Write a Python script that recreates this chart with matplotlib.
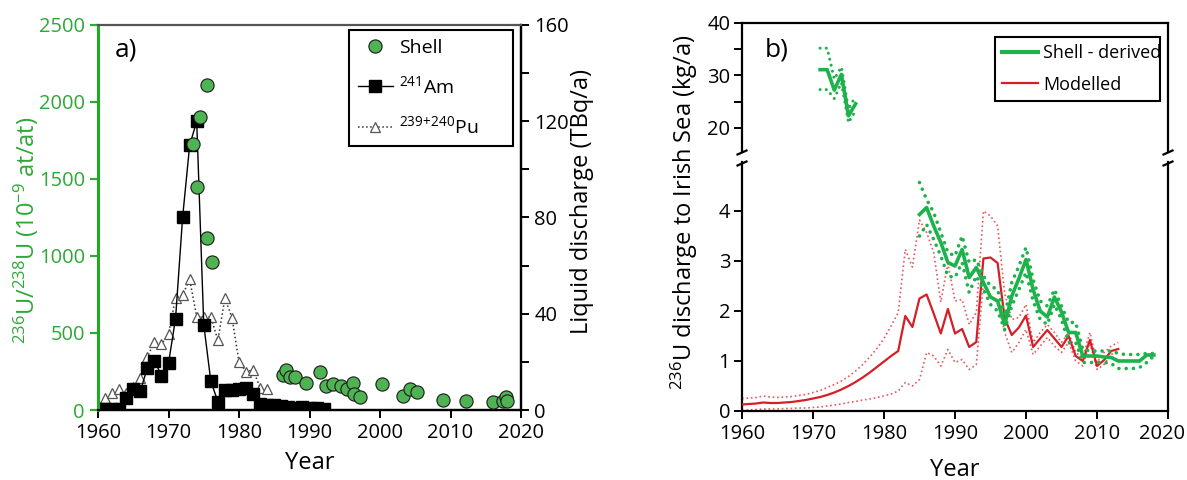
import matplotlib
matplotlib.use('Agg')
import matplotlib.pyplot as plt
import matplotlib.transforms as mtransforms
from matplotlib.lines import Line2D
from matplotlib.ticker import MultipleLocator, FixedLocator

FONT = 'Open Sans'
plt.rcParams['font.family'] = [FONT, 'DejaVu Sans']
plt.rcParams['mathtext.fontset'] = 'custom'
plt.rcParams['mathtext.rm'] = FONT
plt.rcParams['mathtext.it'] = FONT + ':italic'
plt.rcParams['mathtext.bf'] = FONT + ':bold'

# ---------------- data: panel a ----------------
am_years = list(range(1960, 1993))
am_values = [0.5, 0.5, 0.5, 0.5, 4.8, 8.8, 7.8, 17.5, 20.5, 14.3, 19.4, 38.0, 80.0, 110.0,
             120.0, 35.5, 12.0, 3.5, 8.3, 8.5, 8.8, 9.3, 6.5, 2.5, 2.2, 2.0, 1.6, 1.2,
             1.0, 1.1, 0.9, 0.8, 0.6]

pu_years = list(range(1960, 1985))
pu_values = [1.5, 4.8, 6.9, 8.6, 7.0, 9.5, 13.2, 22.0, 28.4, 27.4, 31.4, 46.7, 47.8, 54.3,
             38.8, 38.5, 38.8, 29.0, 46.4, 38.4, 20.0, 16.0, 16.6, 9.3, 8.6]

shell_years = [1973.5, 1974.0, 1974.5, 1975.4, 1975.5, 1976.1, 1986.2, 1986.7, 1987.2, 1988.0,
               1989.5, 1991.5, 1992.3, 1993.4, 1994.4, 1995.3, 1996.2, 1996.3, 1997.2, 2000.3,
               2003.2, 2004.2, 2005.2, 2009.0, 2012.2, 2016.0, 2017.5, 2017.9, 2018.0]
shell_ratio = [1730, 1450, 1905, 1120, 2110, 960, 230, 260, 212, 217,
               173, 245, 158, 169, 158, 137, 173, 104, 82, 169,
               93, 137, 115, 65, 61, 54, 61, 82, 60]

# ---------------- data: panel b ----------------
model_years = list(range(1960, 2014))
model_mid = [0.13, 0.14, 0.15, 0.17, 0.16, 0.16, 0.17, 0.18, 0.20, 0.22,
             0.25, 0.28, 0.32, 0.37, 0.43, 0.50, 0.58, 0.67, 0.77, 0.88,
             0.99, 1.10, 1.20, 1.90, 1.68, 2.25, 2.33, 1.95, 1.55, 2.04,
             1.55, 1.64, 1.28, 1.38, 3.05, 3.07, 2.96, 1.85, 1.52, 1.67,
             1.91, 1.28, 1.45, 1.62, 1.45, 1.28, 1.50, 1.10, 1.00, 1.42,
             0.90, 1.02, 1.20, 1.24]
model_hi = [0.25, 0.26, 0.27, 0.30, 0.28, 0.27, 0.28, 0.29, 0.31, 0.33,
            0.37, 0.41, 0.47, 0.53, 0.60, 0.69, 0.80, 0.93, 1.08, 1.25,
            1.45, 1.70, 1.97, 3.23, 2.88, 3.82, 3.57, 3.17, 2.18, 2.95,
            2.20, 2.23, 1.73, 1.97, 4.00, 3.90, 3.70, 2.35, 1.83, 1.87,
            2.13, 1.37, 1.57, 1.73, 1.57, 1.37, 1.57, 1.17, 1.07, 1.57,
            0.97, 1.17, 1.30, 1.37]
model_lo = [0.02, 0.02, 0.03, 0.04, 0.04, 0.04, 0.05, 0.05, 0.06, 0.06,
            0.07, 0.08, 0.10, 0.12, 0.14, 0.17, 0.19, 0.22, 0.24, 0.27,
            0.30, 0.34, 0.40, 0.57, 0.50, 0.63, 1.17, 1.10, 0.90, 1.23,
            0.97, 1.03, 0.83, 0.93, 2.57, 2.27, 2.20, 1.57, 1.17, 1.37,
            1.63, 1.13, 1.30, 1.47, 1.30, 1.17, 1.37, 1.00, 0.90, 1.37,
            0.83, 0.93, 1.13, 1.20]

shell_b_years = list(range(1985, 2019))
shell_b_mid = [3.93, 4.07, 3.70, 3.37, 2.97, 2.90, 3.23, 2.67, 2.87, 2.57,
               2.28, 2.20, 1.73, 2.30, 2.65, 3.03, 2.43, 2.00, 1.88, 2.28,
               1.98, 1.57, 1.57, 1.10, 1.10, 1.10, 1.08, 1.07, 1.00, 1.00,
               1.00, 1.00, 1.12, 1.12]
shell_b_hi = [4.57, 4.23, 3.97, 3.57, 3.17, 3.10, 3.50, 2.97, 3.03, 2.70,
              2.50, 2.43, 1.90, 2.57, 2.90, 3.27, 2.63, 2.20, 2.10, 2.43,
              2.10, 1.77, 1.77, 1.23, 1.20, 1.20, 1.20, 1.20, 1.15, 1.13,
              1.13, 1.13, 1.15, 1.15]
shell_b_lo = [3.50, 3.73, 3.43, 3.10, 2.70, 2.67, 2.97, 2.37, 2.70, 2.43,
              2.13, 2.00, 1.63, 2.10, 2.43, 2.77, 2.20, 1.83, 1.73, 2.13,
              1.83, 1.37, 1.37, 0.97, 0.97, 0.97, 0.97, 0.95, 0.85, 0.85,
              0.85, 0.87, 0.97, 1.10]

early_years = [1971, 1972, 1973, 1974, 1975, 1976]
early_mid = [31.1, 31.1, 27.2, 30.2, 22.3, 24.6]
early_hi = [35.2, 35.2, 29.3, 31.6, 23.6, 26.0]
early_lo = [27.3, 27.3, 25.6, 28.6, 21.0, 23.3]

year_ticks = [1960, 1970, 1980, 1990, 2000, 2010, 2020]

# ---------------- styling ----------------
GREEN_TXT = '#2ea836'
SHELL_FILL = '#4fb253'
LINE_GREEN = '#1db24b'
RED = '#d51f26'
RED_LIGHT = '#e55a5e'
TICK_FS = 14.5
LAB_FS = 17

W, H = 1187, 480
fig = plt.figure(figsize=(W / 100, H / 100), dpi=100)


def rect(x0, y0, x1, y1):
    return [x0 / W, 1 - y1 / H, (x1 - x0) / W, (y1 - y0) / H]


# ================= Panel a =================
axD = fig.add_axes(rect(98, 25, 521, 410))     # discharge (right axis)
axS = axD.twinx()                               # shell ratio (left axis)

axD.yaxis.tick_right()
axS.yaxis.tick_left()

axD.set_xlim(1960, 2020)
axD.set_ylim(0, 160)
axS.set_ylim(0, 2500)

axD.plot(pu_years, pu_values, ls=':', color='#333333', lw=1.1, marker='^', ms=7.5,
         mfc='white', mec='#555555', mew=0.9, zorder=2)
axD.plot(am_years, am_values, ls='-', color='black', lw=1.0, marker='s', ms=8,
         mfc='black', mec='black', zorder=3)
axS.plot(shell_years, shell_ratio, ls='none', marker='o', ms=9.5, mfc=SHELL_FILL,
         mec='#1a1a1a', mew=0.8, zorder=4)

axD.xaxis.set_major_locator(FixedLocator(year_ticks))
axD.yaxis.set_major_locator(MultipleLocator(40))
axD.yaxis.set_minor_locator(MultipleLocator(20))
axS.yaxis.set_major_locator(MultipleLocator(500))

for ax in (axD, axS):
    ax.tick_params(axis='both', which='both', direction='out', length=6, width=1.4,
                   labelsize=TICK_FS)
axS.tick_params(axis='y', colors=GREEN_TXT, labelcolor=GREEN_TXT, width=1.6)

for sp in axD.spines.values():
    sp.set_linewidth(1.6)
for sp in axS.spines.values():
    sp.set_linewidth(1.6)
axD.spines['left'].set_visible(False)
axS.spines['left'].set_color('#22aa22')
axS.spines['left'].set_linewidth(2.2)
axS.spines['top'].set_color('#555555')
axD.spines['top'].set_visible(False)
axS.spines['right'].set_color('black')
axS.spines['bottom'].set_color('black')

axS.text(0.04, 0.935, 'a)', transform=axS.transAxes, fontsize=19, va='center', ha='left')

h_shell = Line2D([], [], ls='none', marker='o', ms=9.5, mfc=SHELL_FILL, mec='#1a1a1a', mew=0.8)
h_am = Line2D([], [], ls='-', color='black', lw=1.0, marker='s', ms=8)
h_pu = Line2D([], [], ls=':', color='#333333', lw=1.1, marker='^', ms=7.5, mfc='white',
              mec='#555555', mew=0.9)
legA = axS.legend([h_shell, h_am, h_pu], ['Shell', r'$^{241}$Am', r'$^{239{+}240}$Pu'],
                  loc='upper left', bbox_to_anchor=(0.593, 0.694, 0.388, 0.293),
                  mode='expand', fontsize=14, frameon=True, fancybox=False,
                  edgecolor='black', framealpha=1, borderpad=0.45, labelspacing=0.95,
                  handlelength=1.8, handletextpad=0.35, borderaxespad=0)
legA.get_frame().set_linewidth(1.5)

fig.text(26 / W, 1 - 230 / H, r'$^{236}$U/$^{238}$U (10$^{-9}$ at/at)', rotation=90,
         ha='center', va='center', fontsize=LAB_FS, color=GREEN_TXT)
fig.text(582 / W, 1 - 202 / H, 'Liquid discharge (TBq/a)', rotation=90,
         ha='center', va='center', fontsize=LAB_FS, color='black')
fig.text(310 / W, 1 - 463 / H, 'Year', ha='center', va='center', fontsize=LAB_FS)

# ================= Panel b =================
axL = fig.add_axes(rect(742, 162, 1168, 411))   # lower part 0-5
axU = fig.add_axes(rect(742, 23, 1168, 152))    # upper part 15-40

axL.set_xlim(1960, 2020)
axU.set_xlim(1960, 2020)
axL.set_ylim(0, (411 - 162) / 50)
axU.set_ylim(15.4, 40)

dot_ls = (0, (0.01, 2.0))
axL.plot(model_years, model_hi, color=RED_LIGHT, lw=1.2, ls=':', zorder=2)
axL.plot(model_years, model_lo, color=RED_LIGHT, lw=1.2, ls=':', zorder=2)
axL.plot(model_years, model_mid, color=RED, lw=1.6, zorder=3)
axL.plot(shell_b_years, shell_b_hi, color=LINE_GREEN, lw=2.6, ls=dot_ls,
         dash_capstyle='round', zorder=4)
axL.plot(shell_b_years, shell_b_lo, color=LINE_GREEN, lw=2.6, ls=dot_ls,
         dash_capstyle='round', zorder=4)
axL.plot(shell_b_years, shell_b_mid, color=LINE_GREEN, lw=2.6, zorder=5)

axU.plot(early_years, early_hi, color=LINE_GREEN, lw=2.2, ls=dot_ls, dash_capstyle='round')
axU.plot(early_years, early_lo, color=LINE_GREEN, lw=2.2, ls=dot_ls, dash_capstyle='round')
axU.plot(early_years, early_mid, color=LINE_GREEN, lw=2.6)

axL.xaxis.set_major_locator(FixedLocator(year_ticks))
axL.yaxis.set_major_locator(FixedLocator([0, 1, 2, 3, 4]))
axU.yaxis.set_major_locator(FixedLocator([20, 30, 40]))
axU.yaxis.set_minor_locator(FixedLocator([25, 35]))
axU.set_xticks([])

for ax in (axL, axU):
    ax.tick_params(axis='both', which='both', direction='out', length=6, width=1.4,
                   labelsize=TICK_FS, pad=2.5)
    for sp in ax.spines.values():
        sp.set_linewidth(1.6)
axL.tick_params(axis='x', pad=3.5)
axL.spines['top'].set_visible(False)
axU.spines['bottom'].set_visible(False)
axU.tick_params(axis='x', which='both', bottom=False, labelbottom=False)

# nudge the last year label of panel b inward so it stays inside the figure
fig.canvas.draw()
last_lbl = axL.get_xticklabels()[-1]
last_lbl.set_transform(last_lbl.get_transform() +
                       mtransforms.ScaledTranslation(-6 / 100, 0, fig.dpi_scale_trans))

# axis break marks
for xpix in (742, 1168):
    for (y1, y2) in ((154.5, 150.5), (165.5, 161.5)):
        fig.add_artist(Line2D([(xpix - 4.5) / W, (xpix + 4.5) / W],
                              [1 - y1 / H, 1 - y2 / H], transform=fig.transFigure,
                              color='black', lw=1.6))

axU.text(0.054, 0.79, 'b)', transform=axU.transAxes, fontsize=19, va='center', ha='left')

h_g = Line2D([], [], color=LINE_GREEN, lw=3.0)
h_r = Line2D([], [], color=RED, lw=1.6)
legB = axU.legend([h_g, h_r], ['Shell - derived', 'Modelled'], loc='upper left',
                  bbox_to_anchor=(0.594, 0.389, 0.387, 0.504), mode='expand', fontsize=13,
                  frameon=True, fancybox=False, edgecolor='black', framealpha=1,
                  borderpad=0.4, labelspacing=0.75, handlelength=2.0, handletextpad=0.25,
                  borderaxespad=0)
legB.get_frame().set_linewidth(1.5)

fig.text(684 / W, 1 - 212 / H, r'$^{236}$U discharge to Irish Sea (kg/a)', rotation=90,
         ha='center', va='center', fontsize=LAB_FS)
fig.text(955 / W, 1 - 470 / H, 'Year', ha='center', va='center', fontsize=LAB_FS)

fig.savefig('out.png', dpi=100)
